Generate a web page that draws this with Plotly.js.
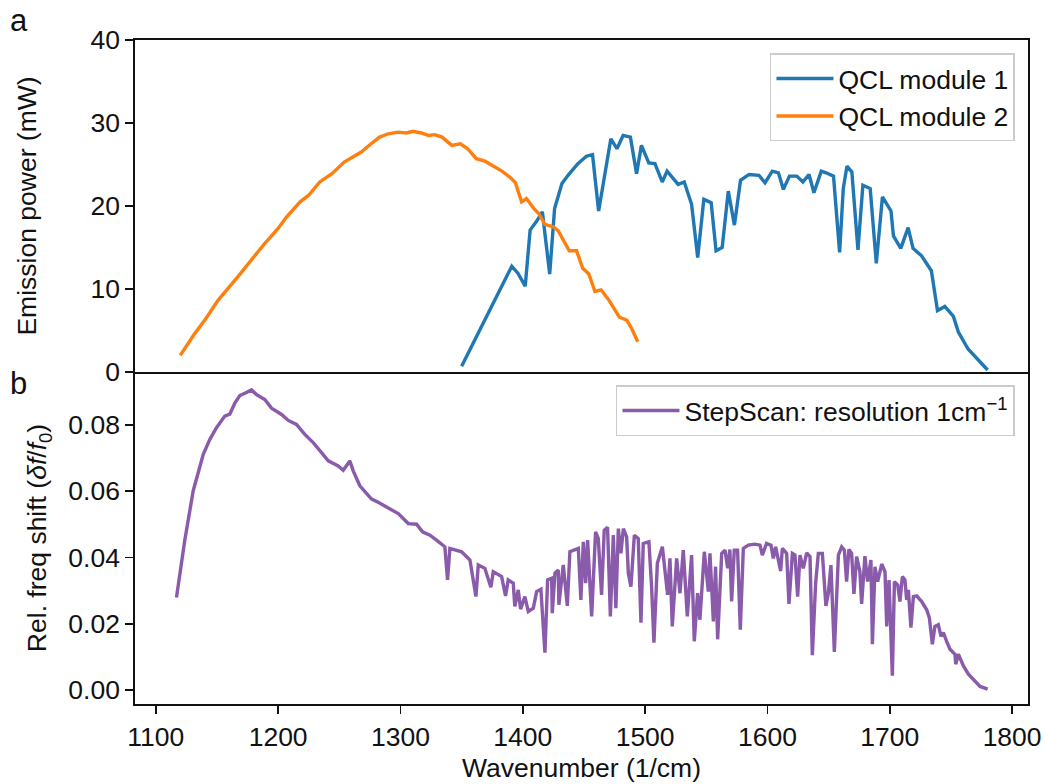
<!DOCTYPE html>
<html>
<head>
<meta charset="utf-8">
<script src="https://cdn.plot.ly/plotly-3.0.1.min.js"></script>
<style>html,body{margin:0;padding:0;background:#fff;}#chart{width:1045px;height:784px;}</style>
</head>
<body>
<div id="chart"></div>
<script>
// QCL module 1 (blue)
const qcl1_x = [1350,1391,1396,1402,1406,1411,1416,1422,1426,1432,1437,1445,1452,1457,1462,1467,1472,1477,1482,1488,1493,1497,1503,1508,1514,1518,1527,1532,1538,1543,1548,1554,1558,1563,1568,1573,1578,1585,1593,1598,1604,1609,1613,1618,1624,1629,1634,1638,1644,1648,1654,1659,1662,1665,1669,1674,1678,1684,1689,1694,1701,1703,1709,1715,1719,1726,1734,1739,1745,1752,1756,1764,1780];
const qcl1_y = [0.7,12.75,11.9,10.35,17.1,18.1,19.3,11.8,19.7,22.7,23.7,25.1,26.0,26.2,19.4,23.9,28.1,26.9,28.5,28.3,23.9,27.3,25.2,25.1,22.9,24.2,22.6,22.9,20.2,13.8,20.8,20.4,14.6,15.0,21.8,17.7,23.1,23.8,23.7,22.8,24.2,24.0,22.0,23.6,23.6,22.9,23.8,21.6,24.2,24.0,23.6,14.4,22.1,24.8,24.1,14.7,22.5,22.1,13.1,21.1,19.4,16.4,14.9,17.4,14.9,14.0,12.2,7.4,7.9,6.7,4.85,2.77,0.24];

// QCL module 2 (orange)
const qcl2_x = [1120,1131,1141,1151,1167,1189,1200,1207,1218,1225,1234,1244,1254,1268,1276,1283,1290,1298,1305,1310,1317,1323,1328,1334,1342,1349,1355,1362,1369,1376,1383,1390,1394,1399,1403,1409,1413,1418,1425,1429,1434,1438,1444,1449,1454,1459,1464,1470,1479,1485,1489,1494];
const qcl2_y = [2.0,4.45,6.45,8.66,11.47,15.48,17.3,18.7,20.5,21.3,22.9,23.9,25.3,26.5,27.5,28.3,28.7,28.9,28.8,29.0,28.8,28.5,28.6,28.3,27.3,27.5,26.9,25.7,25.4,24.8,24.2,23.4,22.8,20.5,20.9,19.7,19.1,17.8,17.5,17.0,15.7,14.6,14.6,12.5,11.8,9.7,9.9,8.75,6.6,6.25,5.25,3.65];

// StepScan relative frequency shift (purple)
const step_x = [1116.9,1123.7,1130.6,1134.7,1138.8,1144.2,1149.6,1156.4,1160.5,1164.6,1168.7,1172.8,1178.2,1182.3,1189.1,1194.6,1202.8,1208.3,1215.0,1221.8,1228.7,1235.5,1241.0,1249.1,1253.2,1258.6,1261.4,1266.8,1276.4,1281.8,1288.6,1298.2,1306.4,1313.2,1318.0,1324.1,1329.5,1336.3,1338.5,1340.4,1350.0,1356.8,1361.7,1363.6,1369.0,1373.9,1375.9,1382.7,1385.9,1388.1,1392.2,1393.5,1396.3,1398.2,1401.7,1404.5,1408.6,1411.3,1414.8,1418.1,1420.3,1423.6,1424.1,1426.3,1429.0,1429.5,1433.1,1436.4,1438.5,1445.4,1447.5,1449.5,1451.4,1453.0,1456.3,1459.5,1461.7,1464.4,1466.6,1469.3,1471.6,1474.0,1476.1,1478.1,1480.2,1482.2,1484.9,1486.3,1488.4,1491.2,1494.4,1496.6,1498.5,1503.1,1505.3,1507.2,1510.0,1514.1,1518.4,1520.3,1522.2,1525.8,1528.5,1531.2,1534.5,1538.0,1540.2,1542.9,1544.8,1548.4,1551.7,1553.0,1555.8,1557.6,1559.3,1562.6,1565.3,1567.5,1569.3,1570.7,1572.9,1575.6,1577.8,1580.3,1584.4,1589.8,1593.9,1595.8,1599.3,1602.9,1604.8,1606.7,1610.8,1612.2,1615.7,1617.6,1620.4,1622.5,1624.7,1626.6,1629.3,1632.1,1634.8,1636.7,1639.4,1641.6,1644.9,1647.8,1649.8,1651.9,1654.7,1658.0,1660.7,1662.9,1664.7,1666.6,1668.8,1670.7,1672.9,1675.6,1677.0,1679.7,1681.9,1684.6,1685.8,1687.9,1690.1,1693.4,1696.1,1697.5,1699.4,1702.1,1703.8,1706.5,1708.3,1710.3,1712.4,1713.8,1715.2,1717.3,1719.3,1722.0,1726.1,1730.2,1732.4,1734.8,1736.9,1739.7,1741.9,1743.8,1746.5,1749.2,1753.3,1753.9,1756.1,1760.2,1764.3,1769.7,1773.8,1780.0];
const step_y = [0.0279,0.0452,0.0601,0.0661,0.0711,0.0756,0.0791,0.0826,0.0832,0.0865,0.0888,0.0895,0.0905,0.0891,0.0876,0.0850,0.0831,0.0813,0.0801,0.0771,0.0746,0.0716,0.0691,0.0676,0.0663,0.0691,0.0661,0.0616,0.0576,0.0566,0.0551,0.0532,0.0502,0.0500,0.0477,0.0467,0.0452,0.0432,0.0332,0.0427,0.0417,0.0392,0.0282,0.0377,0.0367,0.0310,0.0357,0.0342,0.0284,0.0332,0.0322,0.0252,0.0302,0.0244,0.0282,0.0237,0.0247,0.0297,0.0304,0.0113,0.0332,0.0337,0.0232,0.0352,0.0362,0.0257,0.0377,0.0254,0.0417,0.0427,0.0272,0.0447,0.0322,0.0452,0.0222,0.0477,0.0457,0.0287,0.0482,0.0491,0.0222,0.0467,0.0247,0.0487,0.0412,0.0487,0.0462,0.0352,0.0312,0.0467,0.0457,0.0203,0.0442,0.0447,0.0312,0.0143,0.0382,0.0432,0.0287,0.0397,0.0192,0.0397,0.0292,0.0422,0.0222,0.0407,0.0147,0.0292,0.0212,0.0417,0.0297,0.0412,0.0207,0.0372,0.0153,0.0412,0.0422,0.0367,0.0424,0.0267,0.0422,0.0422,0.0182,0.0427,0.0437,0.0440,0.0437,0.0407,0.0442,0.0437,0.0397,0.0432,0.0359,0.0427,0.0412,0.0260,0.0412,0.0407,0.0282,0.0407,0.0367,0.0414,0.0402,0.0105,0.0322,0.0412,0.0412,0.0254,0.0292,0.0377,0.0115,0.0407,0.0432,0.0422,0.0327,0.0424,0.0412,0.0290,0.0402,0.0357,0.0260,0.0404,0.0327,0.0392,0.0138,0.0372,0.0327,0.0380,0.0357,0.0192,0.0332,0.0043,0.0327,0.0317,0.0267,0.0342,0.0332,0.0272,0.0302,0.0188,0.0282,0.0284,0.0267,0.0242,0.0217,0.0138,0.0192,0.0197,0.0162,0.0173,0.0147,0.0123,0.0108,0.0078,0.0108,0.0073,0.0048,0.0028,0.0011,0.0003];

const x_ticks = [1100,1200,1300,1400,1500,1600,1700,1800];
const top_ticks = [0,10,20,30,40];
const bottom_ticks = [0,0.02,0.04,0.06,0.08];

const FONT = 'Arial, "Liberation Sans", Helvetica, sans-serif';
const FS = 26.5;
const INK = '#111111';
const LW = 1.8;

const traces = [
  {x: qcl1_x, y: qcl1_y, xaxis: 'x2', yaxis: 'y', mode: 'lines', name: 'QCL module 1',
   line: {color: '#1f77b4', width: 3.4}, legend: 'legend'},
  {x: qcl2_x, y: qcl2_y, xaxis: 'x2', yaxis: 'y', mode: 'lines', name: 'QCL module 2',
   line: {color: '#ff7f0e', width: 3.4}, legend: 'legend'},
  {x: step_x, y: step_y, xaxis: 'x', yaxis: 'y2', mode: 'lines', name: 'StepScan: resolution 1cm<sup>−1</sup>',
   line: {color: '#8a5aab', width: 3.4}, legend: 'legend2'}
];

const axisCommon = {
  showgrid: false, zeroline: false, showline: true, linecolor: INK, linewidth: LW,
  ticks: 'outside', ticklen: 8, tickwidth: LW, tickcolor: INK,
  tickfont: {family: FONT, size: FS, color: INK}
};

const layout = {
  width: 1045, height: 784,
  margin: {l: 135, r: 17, t: 39.5, b: 80},
  paper_bgcolor: '#ffffff', plot_bgcolor: '#ffffff',
  font: {family: FONT, size: FS, color: INK},
  showlegend: true,
  xaxis: Object.assign({}, axisCommon, {
    anchor: 'y2', range: [1083, 1813], tickvals: x_ticks, mirror: false,
    title: {text: 'Wavenumber (1/cm)', font: {family: FONT, size: FS, color: INK}, standoff: 8}
  }),
  xaxis2: Object.assign({}, axisCommon, {
    anchor: 'y', matches: 'x', range: [1083, 1813], showticklabels: false, ticks: '', mirror: true
  }),
  yaxis: Object.assign({}, axisCommon, {
    domain: [0.5, 1], anchor: 'x2', range: [0, 40], tickvals: top_ticks, mirror: true,
    title: {text: 'Emission power (mW)', font: {family: FONT, size: FS, color: INK}, standoff: 46}
  }),
  yaxis2: Object.assign({}, axisCommon, {
    domain: [0, 0.5], anchor: 'x', range: [-0.0042, 0.0959], tickvals: bottom_ticks, tickformat: '.2f', mirror: true,
    title: {text: 'Rel. freq shift (<i>δf</i>/<i>f</i><sub>0</sub>)', font: {family: FONT, size: FS, color: INK}, standoff: 14}
  }),
  legend: {
    x: 0.9854, xanchor: 'right', y: 0.98, yanchor: 'top',
    bgcolor: 'rgba(255,255,255,0.8)', bordercolor: '#cccccc', borderwidth: 1.5,
    font: {family: FONT, size: FS, color: INK}, itemwidth: 57, tracegroupgap: 0
  },
  legend2: {
    x: 0.9854, xanchor: 'right', y: 0.48, yanchor: 'top',
    bgcolor: 'rgba(255,255,255,0.8)', bordercolor: '#cccccc', borderwidth: 1.5,
    font: {family: FONT, size: FS, color: INK}, itemwidth: 57
  },
  annotations: [
    {text: 'a', xref: 'paper', yref: 'paper', x: -0.142, y: 1.029, xanchor: 'left', yanchor: 'middle',
     showarrow: false, font: {family: FONT, size: 31, color: INK}},
    {text: 'b', xref: 'paper', yref: 'paper', x: -0.142, y: 0.483, xanchor: 'left', yanchor: 'middle',
     showarrow: false, font: {family: FONT, size: 31, color: INK}}
  ]
};

Plotly.newPlot('chart', traces, layout, {staticPlot: true, displayModeBar: false});
</script>
</body>
</html>
